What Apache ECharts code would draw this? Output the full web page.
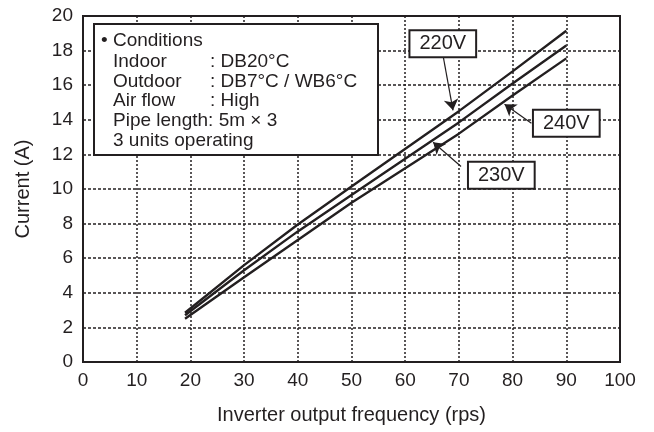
<!DOCTYPE html>
<html>
<head>
<meta charset="utf-8">
<script src="https://cdn.jsdelivr.net/npm/echarts@6/dist/echarts.min.js"></script>
<style>
  html, body { margin: 0; padding: 0; background: #fff; }
  #main { width: 654px; height: 432px; }
</style>
</head>
<body>
<div id="main"></div>
<script>
// frequency points (rps)
const freq = [19, 30, 40, 50, 70, 80, 90];
const v220 = [2.85, 5.6, 7.95, 10.15, 14.5, 16.8, 19.15];
const v230 = [2.7, 5.3, 7.55, 9.65, 13.85, 16.1, 18.3];
const v240 = [2.5, 4.9, 7.05, 9.2, 13.2, 15.4, 17.55];

const xTicks = [0, 10, 20, 30, 40, 50, 60, 70, 80, 90, 100];
const yTicks = [0, 2, 4, 6, 8, 10, 12, 14, 16, 18, 20];

// callout tags and their arrows, in data units
const tagNames = ['220V', '230V', '240V'];
const tagAt = [[67.0, 18.4], [77.9, 10.8], [90.0, 13.8]];
const arrowFrom = [[67.0, 17.8], [70.4, 11.3], [83.5, 13.8]];
const arrowTo = [[68.9, 14.55], [65.2, 12.7], [78.5, 14.9]];

const conditionLines = [
  ['Indoor', ': DB20°C'],
  ['Outdoor', ': DB7°C / WB6°C'],
  ['Air flow', ': High'],
];

const ink = '#231f20';
const font = '"Liberation Sans", Arial, sans-serif';

const chart = echarts.init(document.getElementById('main'));

const toPairs = (ys) => freq.map((x, i) => [x, ys[i]]);

const curve = (name, ys) => ({
  name: name,
  type: 'line',
  data: toPairs(ys),
  showSymbol: false,
  smooth: false,
  silent: true,
  lineStyle: { color: ink, width: 2.4 },
  z: 3,
});

let condText = '';
conditionLines.forEach((l) => {
  condText += '{k|' + l[0] + '}{v|' + l[1] + '}\n';
});
condText += '{v|Pipe length: 5m × 3}\n{v|3 units operating}';

chart.setOption({
  animation: false,
  grid: {
    left: 83,
    right: 34,
    top: 16,
    bottom: 70,
    show: true,
    borderColor: ink,
    borderWidth: 2,
  },
  xAxis: {
    type: 'value',
    min: xTicks[0],
    max: xTicks[xTicks.length - 1],
    interval: 10,
    name: 'Inverter output frequency (rps)',
    nameLocation: 'middle',
    nameGap: 43,
    nameTextStyle: { color: ink, fontSize: 20, fontFamily: font },
    axisLine: { show: true, lineStyle: { color: ink, width: 2 } },
    axisTick: { show: false },
    axisLabel: { color: ink, fontSize: 19, fontFamily: font, margin: 9 },
    splitLine: { show: true, lineStyle: { color: ink, width: 1.5, type: [2, 2] } },
  },
  yAxis: {
    type: 'value',
    min: yTicks[0],
    max: yTicks[yTicks.length - 1],
    interval: 2,
    name: 'Current (A)',
    nameLocation: 'middle',
    nameGap: 50,
    nameTextStyle: { color: ink, fontSize: 20, fontFamily: font },
    axisLine: { show: true, lineStyle: { color: ink, width: 2 } },
    axisTick: { show: false },
    axisLabel: { color: ink, fontSize: 19, fontFamily: font, margin: 10 },
    splitLine: { show: true, lineStyle: { color: ink, width: 1.5, type: [3, 2] } },
  },
  series: [
    curve('220V', v220),
    curve('230V', v230),
    curve('240V', v240),
    {
      name: 'arrows',
      type: 'lines',
      coordinateSystem: 'cartesian2d',
      silent: true,
      symbol: ['none', 'arrow'],
      symbolSize: [6, 11],
      lineStyle: { color: ink, width: 1.2, opacity: 1 },
      data: arrowFrom.map((p, i) => ({ coords: [p, arrowTo[i]] })),
      z: 4,
    },
    {
      name: 'tags',
      type: 'scatter',
      silent: true,
      symbolSize: 0,
      itemStyle: { color: '#fff', opacity: 1 },
      data: tagAt.map((p, i) => ({ value: p, name: tagNames[i] })),
      label: {
        show: true,
        position: 'inside',
        formatter: (p) => p.name,
        color: ink,
        opacity: 1,
        fontSize: 20,
        fontFamily: font,
        backgroundColor: '#fff',
        borderColor: ink,
        borderWidth: 2,
        padding: [3, 9, 2, 9],
      },
      z: 5,
    },
  ],
  graphic: [
    {
      type: 'rect',
      left: 93,
      top: 23,
      shape: { width: 284, height: 131 },
      style: { fill: '#fff', stroke: ink, lineWidth: 2 },
      z: 10,
    },
    {
      type: 'text',
      left: 101,
      top: 31,
      style: {
        text: '• Conditions',
        fill: ink,
        font: '19px ' + font,
      },
      z: 11,
    },
    {
      type: 'text',
      left: 113,
      top: 52,
      style: {
        text: condText,
        fill: ink,
        font: '19px ' + font,
        lineHeight: 19.7,
        rich: {
          k: { width: 97, fontSize: 19, fontFamily: font, fill: ink, lineHeight: 19.7 },
          v: { fontSize: 19, fontFamily: font, fill: ink, lineHeight: 19.7 },
        },
      },
      z: 11,
    },
  ],
});
</script>
</body>
</html>
